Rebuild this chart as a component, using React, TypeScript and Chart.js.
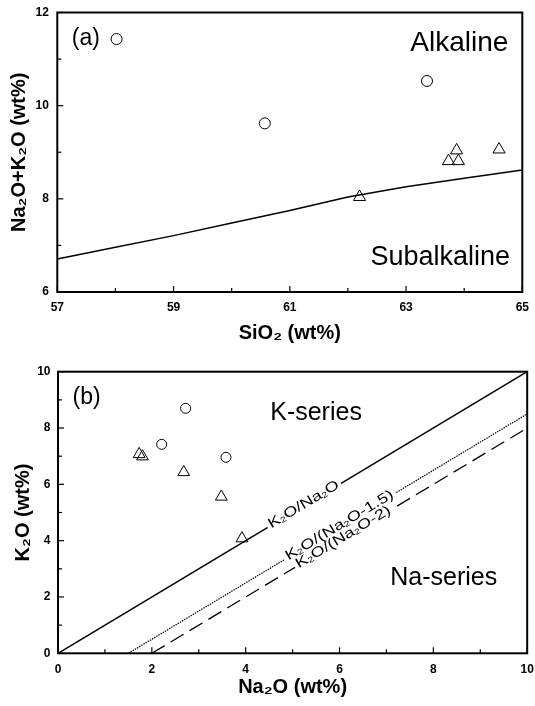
import React, { useEffect, useRef } from 'react';
import { Chart, registerables } from 'chart.js';
Chart.register(...registerables);

const FONT = "'Liberation Sans', Arial, Helvetica, sans-serif";

// ---------- Panel (a): SiO2 vs Na2O+K2O ----------
const boundarySiO2 = [57, 58, 59, 60, 61, 62, 63, 64, 65];
const boundaryAlk = [6.71, 6.96, 7.21, 7.48, 7.75, 8.04, 8.26, 8.44, 8.62];
const circleSiO2 = [58.02, 60.57, 63.36];
const circleAlk = [11.43, 9.62, 10.53];
const triSiO2 = [62.2, 63.73, 63.87, 63.9, 64.6];
const triAlk = [8.04, 8.81, 9.04, 8.81, 9.06];
const siO2Ticks = [57, 59, 61, 63, 65];
const alkTicks = [6, 8, 10, 12];

// ---------- Panel (b): Na2O vs K2O ----------
const circleNa2O = [2.72, 2.21, 3.58];
const circleK2O = [8.7, 7.42, 6.96];
const triNa2O = [1.73, 1.8, 2.68, 3.48, 3.92];
const triK2O = [7.07, 6.99, 6.43, 5.56, 4.08];
const ratioNa2O = [0, 10];
const ratioK2O = [0, 10];
const ratio15Na2O = [1.5, 10];
const ratio15K2O = [0, 8.5];
const ratio2Na2O = [2, 10];
const ratio2K2O = [0, 8];
const na2OTicks = [0, 2, 4, 6, 8, 10];
const k2OTicks = [0, 2, 4, 6, 8, 10];

const zip = (xs: number[], ys: number[]) => xs.map((x, i) => ({ x, y: ys[i] }));

type Seg = { t: string; sub: boolean };
function parseSub(s: string): Seg[] {
  const out: Seg[] = [];
  let buf = '';
  for (let i = 0; i < s.length; i++) {
    if (s[i] === '_' && i + 1 < s.length) {
      if (buf) out.push({ t: buf, sub: false });
      buf = '';
      out.push({ t: s[i + 1], sub: true });
      i++;
    } else buf += s[i];
  }
  if (buf) out.push({ t: buf, sub: false });
  return out;
}

function segFont(size: number, sub: boolean) {
  return `${sub ? Math.round(size * 0.6) : size}px ${FONT}`;
}

function richWidth(ctx: CanvasRenderingContext2D, segs: Seg[], size: number) {
  let w = 0;
  for (const s of segs) {
    ctx.font = segFont(size, s.sub);
    w += ctx.measureText(s.t).width;
  }
  return w;
}

function drawRich(ctx: CanvasRenderingContext2D, segs: Seg[], size: number, startX: number, dy: number) {
  let x = startX;
  ctx.textAlign = 'left';
  ctx.textBaseline = 'middle';
  for (const s of segs) {
    ctx.font = segFont(size, s.sub);
    ctx.fillText(s.t, x, dy + (s.sub ? size * 0.2 : 0));
    x += ctx.measureText(s.t).width;
  }
}

const decor = {
  id: 'decor',
  afterDatasetsDraw(chart: any, _args: any, opts: any) {
    const { ctx, chartArea: a, scales } = chart;
    const xs = scales.x;
    const ys = scales.y;
    ctx.save();
    ctx.fillStyle = '#000';

    // labels along lines
    const stretch = opts.labelStretch || 1;
    const lineLabels = opts.lineLabels || [];
    const prepared = lineLabels.map((L: any) => {
      const [x1, x2] = L.lineX;
      const [y1, y2] = L.lineY;
      const yv = y1 + ((L.at - x1) * (y2 - y1)) / (x2 - x1);
      const px = xs.getPixelForValue(L.at);
      const py = ys.getPixelForValue(yv);
      const ang = Math.atan2(
        ys.getPixelForValue(y2) - ys.getPixelForValue(y1),
        xs.getPixelForValue(x2) - xs.getPixelForValue(x1)
      );
      const segs = parseSub(L.text);
      const w = richWidth(ctx, segs, L.size);
      return { px, py, ang, segs, w, size: L.size };
    });
    for (const p of prepared) {
      ctx.save();
      ctx.translate(p.px, p.py);
      ctx.rotate(p.ang);
      ctx.scale(stretch, 1);
      ctx.fillStyle = '#fff';
      ctx.fillRect(-p.w / 2 - 2, -3, p.w + 4, 6);
      ctx.restore();
    }
    for (const p of prepared) {
      ctx.save();
      ctx.translate(p.px, p.py);
      ctx.rotate(p.ang);
      ctx.scale(stretch, 1);
      ctx.fillStyle = '#000';
      drawRich(ctx, p.segs, p.size, -p.w / 2, -1);
      ctx.restore();
    }

    // region labels
    for (const R of opts.regionLabels || []) {
      ctx.font = `${R.size}px ${FONT}`;
      ctx.textAlign = R.align;
      ctx.textBaseline = 'middle';
      ctx.fillStyle = '#000';
      ctx.fillText(R.text, xs.getPixelForValue(R.x), ys.getPixelForValue(R.y));
    }

    // frame
    ctx.strokeStyle = '#000';
    ctx.lineWidth = 2;
    ctx.strokeRect(a.left, a.top, a.right - a.left, a.bottom - a.top);

    // inward ticks
    ctx.lineWidth = 1.2;
    const drawTicks = (scale: any, minor: number, major: number, horizontal: boolean) => {
      const n = Math.round((scale.max - scale.min) / minor);
      for (let i = 0; i <= n; i++) {
        const v = scale.min + i * minor;
        const r = (v - scale.min) / major;
        const isMajor = Math.abs(r - Math.round(r)) < 1e-6;
        const len = isMajor ? 6 : 4;
        const p = scale.getPixelForValue(v);
        ctx.beginPath();
        if (horizontal) {
          ctx.moveTo(p, a.bottom);
          ctx.lineTo(p, a.bottom - len);
        } else {
          ctx.moveTo(a.left, p);
          ctx.lineTo(a.left + len, p);
        }
        ctx.stroke();
      }
    };
    drawTicks(xs, opts.minorX, opts.majorX, true);
    drawTicks(ys, opts.minorY, opts.majorY, false);
    ctx.restore();
  },
};

function makeAxis(cfg: any) {
  const horizontal = cfg.horizontal;
  return {
    type: 'linear',
    min: cfg.min,
    max: cfg.max,
    afterBuildTicks: (s: any) => {
      s.ticks = cfg.ticks.map((v: number) => ({ value: v }));
    },
    grid: { display: false, drawTicks: false },
    border: { display: false },
    ticks: {
      color: '#000',
      font: { family: FONT, size: 12, weight: 'bold' },
      padding: cfg.tickPad,
      maxRotation: 0,
      autoSkip: false,
      callback: (v: number) => String(v),
    },
    title: {
      display: true,
      text: cfg.title,
      color: '#000',
      font: { family: FONT, size: 20, weight: 'bold' },
      padding: cfg.titlePad,
    },
    afterFit: (s: any) => {
      if (horizontal) {
        s.height = cfg.size;
        s.paddingLeft = 0;
        s.paddingRight = 0;
      } else {
        s.width = cfg.size;
        s.paddingTop = 0;
        s.paddingBottom = 0;
      }
    },
  };
}

const ptCircle = (data: any[], r: number) => ({
  data,
  showLine: false,
  pointStyle: 'circle',
  pointRadius: r,
  pointBorderWidth: 1,
  pointBorderColor: '#000',
  pointBackgroundColor: 'rgba(0,0,0,0)',
});
const ptTri = (data: any[], r: number) => ({
  data,
  showLine: false,
  pointStyle: 'triangle',
  pointRadius: r,
  pointBorderWidth: 1,
  pointBorderColor: '#000',
  pointBackgroundColor: 'rgba(0,0,0,0)',
});
const line = (data: any[], width: number, dash: number[]) => ({
  data,
  showLine: true,
  pointRadius: 0,
  borderColor: '#000',
  borderWidth: width,
  borderDash: dash,
  fill: false,
});

function configA() {
  return {
    type: 'scatter',
    data: {
      datasets: [
        line(zip(boundarySiO2, boundaryAlk), 1.5, []),
        ptCircle(zip(circleSiO2, circleAlk), 5.5),
        ptTri(zip(triSiO2, triAlk), 7),
      ],
    },
    options: {
      responsive: false,
      animation: false,
      devicePixelRatio: 1,
      layout: { padding: { left: 0, right: 12.7, top: 12.5, bottom: 0 } },
      plugins: {
        legend: { display: false },
        tooltip: { enabled: false },
        decor: {
          minorX: 1,
          majorX: 2,
          minorY: 1,
          majorY: 2,
          regionLabels: [
            { text: '(a)', x: 57.25, y: 11.43, size: 23, align: 'left' },
            { text: 'Alkaline', x: 64.76, y: 11.34, size: 28, align: 'right' },
            { text: 'Subalkaline', x: 64.79, y: 6.74, size: 27, align: 'right' },
          ],
          lineLabels: [],
        },
      },
      scales: {
        x: makeAxis({
          horizontal: true,
          min: 57,
          max: 65,
          ticks: siO2Ticks,
          tickPad: 8,
          title: 'SiO₂ (wt%)',
          titlePad: { top: 0, bottom: 1 },
          size: 54,
        }),
        y: makeAxis({
          horizontal: false,
          min: 6,
          max: 12,
          ticks: alkTicks,
          tickPad: 8.5,
          title: 'Na₂O+K₂O (wt%)',
          titlePad: { top: 7.5, bottom: 0 },
          size: 57.3,
        }),
      },
    },
    plugins: [decor],
  };
}

function configB() {
  return {
    type: 'scatter',
    data: {
      datasets: [
        line(zip(ratioNa2O, ratioK2O), 1.5, []),
        line(zip(ratio15Na2O, ratio15K2O), 1.2, [1.5, 1]),
        line(zip(ratio2Na2O, ratio2K2O), 1.3, [15, 7]),
        ptCircle(zip(circleNa2O, circleK2O), 5),
        ptTri(zip(triNa2O, triK2O), 6.8),
      ],
    },
    options: {
      responsive: false,
      animation: false,
      devicePixelRatio: 1,
      layout: { padding: { left: 0, right: 6.1, top: 25.7, bottom: 0 } },
      plugins: {
        legend: { display: false },
        tooltip: { enabled: false },
        decor: {
          minorX: 1,
          majorX: 2,
          minorY: 1,
          majorY: 2,
          labelStretch: 1.3,
          regionLabels: [
            { text: '(b)', x: 0.31, y: 9.09, size: 23, align: 'left' },
            { text: 'K-series', x: 5.5, y: 8.54, size: 25, align: 'center' },
            { text: 'Na-series', x: 8.22, y: 2.66, size: 25, align: 'center' },
          ],
          lineLabels: [
            { text: 'K_2O/Na_2O', at: 5.25, lineX: ratioNa2O, lineY: ratioK2O, size: 14 },
            { text: 'K_2O/(Na_2O-1.5)', at: 6.01, lineX: ratio15Na2O, lineY: ratio15K2O, size: 14 },
            { text: 'K_2O/(Na_2O-2)', at: 6.09, lineX: ratio2Na2O, lineY: ratio2K2O, size: 14 },
          ],
        },
      },
      scales: {
        x: makeAxis({
          horizontal: true,
          min: 0,
          max: 10,
          ticks: na2OTicks,
          tickPad: 9.5,
          title: 'Na₂O (wt%)',
          titlePad: { top: 0, bottom: 7 },
          size: 52.7,
        }),
        y: makeAxis({
          horizontal: false,
          min: 0,
          max: 10,
          ticks: k2OTicks,
          tickPad: 7.5,
          title: 'K₂O (wt%)',
          titlePad: { top: 11, bottom: 0 },
          size: 58,
        }),
      },
    },
    plugins: [decor],
  };
}

function Panel({ width, height, make }: { width: number; height: number; make: () => any }) {
  const ref = useRef<HTMLCanvasElement>(null);
  useEffect(() => {
    const chart = new Chart(ref.current as HTMLCanvasElement, make());
    return () => chart.destroy();
  }, []);
  return <canvas ref={ref} width={width} height={height} style={{ display: 'block', width, height }} />;
}

export default function App() {
  return (
    <div style={{ position: 'fixed', left: 0, top: 0, width: 535, height: 706, background: '#fff', overflow: 'hidden' }}>
      <Panel width={535} height={346} make={configA} />
      <Panel width={535} height={360} make={configB} />
    </div>
  );
}
